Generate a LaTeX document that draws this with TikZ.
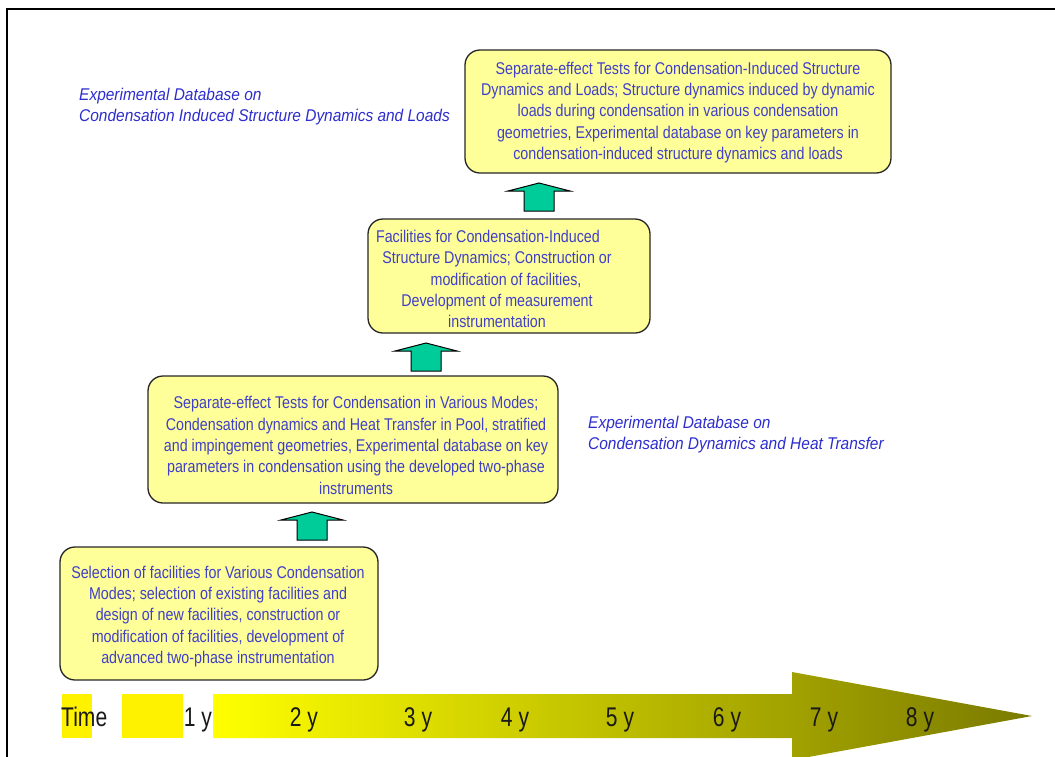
\documentclass[tikz,border=0pt]{standalone}
\usepackage{fontspec}
\usetikzlibrary{calc}
\setmainfont{Liberation Sans}
\newfontfamily\boxfont[FakeStretch=0.84]{Liberation Sans}
\newfontfamily\labfont[FakeStretch=0.91]{Liberation Sans}
\newfontfamily\timefont[FakeStretch=0.78]{Liberation Sans}
\definecolor{boxfill}{RGB}{255,255,153}
\definecolor{boxtext}{RGB}{64,64,200}
\definecolor{labtext}{RGB}{45,45,205}
\definecolor{arrgreen}{RGB}{0,204,153}
\definecolor{tlstart}{RGB}{255,255,0}
\definecolor{tlend}{RGB}{122,122,0}
\tikzset{
  box/.style={draw=black!85, line width=1.3pt, fill=boxfill, rounded corners=15pt, inner sep=0pt},
  boxtxt/.style={text=boxtext, align=center, inner sep=0pt, font=\boxfont\fontsize{17}{21.3}\selectfont},
  labtxt/.style={text=labtext, align=left, anchor=north west, inner sep=0pt, font=\labfont\itshape\fontsize{17}{21.3}\selectfont},
  uparrow/.style={draw=black, line width=1pt, fill=arrgreen},
  yel/.style={fill=yellow, draw=none},
  tltxt/.style={text=black!90, inner sep=0pt, anchor=base, font=\timefont\fontsize{27}{30}\selectfont}
}
\begin{document}
\begin{tikzpicture}[x=1pt,y=-1pt]
\useasboundingbox (0,0) rectangle (1055,756);
\clip (0,0) rectangle (1055,756);
% frame
\draw[line width=2pt] (7,758) -- (7,9) -- (1057,9);

% boxes
\node[box, minimum width=318pt, minimum height=133pt] (b1) at (219,613.5) {};
\node[box, minimum width=410pt, minimum height=127pt] (b2) at (353,439.5) {};
\node[box, minimum width=282pt, minimum height=114pt] (b3) at (509,276) {};
\node[box, minimum width=426pt, minimum height=123pt] (b4) at (678,111.5) {};

\node[boxtxt] (t1) at ([xshift=-1pt,yshift=-3pt]b1.center) {Selection of facilities for Various Condensation\\Modes; selection of existing facilities and\\design of new facilities, construction or\\modification of facilities, development of\\advanced two-phase instrumentation};
\node[boxtxt] (t2) at ([xshift=3pt,yshift=-6pt]b2.center) {Separate-effect Tests for Condensation in Various Modes;\\Condensation dynamics and Heat Transfer in Pool, stratified\\and impingement geometries, Experimental database on key\\parameters in condensation using the developed two-phase\\instruments};
\node[boxtxt] (t3) at ([xshift=-12pt,yshift=-3pt]b3.center) {Facilities for Condensation-Induced\hspace*{18pt}\\Structure Dynamics; Construction or\\\hspace*{18pt}modification of facilities,\\Development of measurement\\instrumentation};
\node[boxtxt] (t4) at ([xshift=0pt,yshift=-1pt]b4.center) {Separate-effect Tests for Condensation-Induced Structure\\Dynamics and Loads; Structure dynamics induced by dynamic\\loads during condensation in various condensation\\geometries, Experimental database on key parameters in\\condensation-induced structure dynamics and loads};

% italic labels
\node[labtxt] (l1) at (79,88) {Experimental Database on\\Condensation Induced Structure Dynamics and Loads};
\node[labtxt] (l2) at (588,416) {Experimental Database on\\Condensation Dynamics and Heat Transfer};

% block arrows between boxes
\coordinate (a1) at (312,512);
\coordinate (a2) at (426,343);
\coordinate (a3) at (539,183);
\foreach \a in {a1, a2, a3}{
  \draw[uparrow] ($(\a)+(-15,28)$) -- ($(\a)+(-15,8)$) -- ($(\a)+(-31,8)$) -- (\a) -- ($(\a)+(31,8)$) -- ($(\a)+(15,8)$) -- ($(\a)+(15,28)$) -- cycle;
}

% timeline
\shade[left color=tlstart, right color=tlend] (213,694) -- (792,694) -- (792,672) -- (1032,716) -- (792,760) -- (792,738) -- (213,738) -- cycle;
\fill[yel] (62,694) rectangle (92,738);
\fill[yel] (122,694) rectangle (183,738);
\node[tltxt, anchor=base west] (time) at (61,726) {Time};
\node[tltxt] (y1) at (198,726) {1 y};
\node[tltxt] (y2) at (304,726) {2 y};
\node[tltxt] (y3) at (418,726) {3 y};
\node[tltxt] (y4) at (515,726) {4 y};
\node[tltxt] (y5) at (620,726) {5 y};
\node[tltxt] (y6) at (727,726) {6 y};
\node[tltxt] (y7) at (824,726) {7 y};
\node[tltxt] (y8) at (920,726) {8 y};
\end{tikzpicture}
\end{document}
